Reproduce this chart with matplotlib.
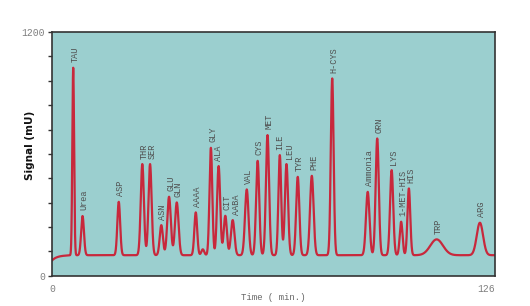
import numpy as np
import matplotlib
matplotlib.use("Agg")
import matplotlib.pyplot as plt

# Peak table
names = ["TAU", "Urea", "ASP", "THR", "SER", "ASN", "GLU", "GLN", "AAAA", "", "GLY",
         "ALA", "CIT", "AABA", "VAL", "CYS", "MET", "ILE", "LEU", "TYR", "PHE",
         "H-CYS", "Ammonia", "ORN", "LYS", "1-MET-HIS", "HIS", "TRP", "ARG"]
times = [6.05, 8.7, 19.0, 25.7, 27.9, 31.1, 33.3, 35.5, 40.9, 42.9, 45.2,
         47.4, 49.3, 51.4, 55.4, 58.5, 61.3, 64.8, 66.7, 69.9, 73.9,
         79.7, 89.8, 92.5, 96.6, 99.3, 101.5, 109.4, 121.7]
heights = [1025, 294, 364, 550, 550, 249, 389, 361, 312, 130, 630,
           540, 295, 274, 425, 566, 693, 594, 550, 487, 492,
           972, 413, 676, 520, 266, 430, 179, 261]
widths = [0.25, 0.4, 0.4, 0.45, 0.45, 0.45, 0.5, 0.5, 0.4, 0.4, 0.4,
          0.45, 0.45, 0.5, 0.5, 0.45, 0.45, 0.4, 0.45, 0.45, 0.5,
          0.4, 0.5, 0.45, 0.45, 0.4, 0.4, 1.8, 0.9]
baseline_level = 101
start_level = 75

t = np.linspace(0, 126, 6000)
signal = baseline_level - (baseline_level - start_level) * np.exp(-t / 1.5)
for tc, h, w in zip(times, heights, widths):
    signal = signal + (h - baseline_level) * np.exp(-0.5 * ((t - tc) / w) ** 2)

fig = plt.figure(figsize=(5.3, 3.06), dpi=100)
ax = fig.add_axes([0.098, 0.099, 0.836, 0.796])
ax.set_facecolor("#9bcfcf")
ax.plot(t, signal, color="#c8283c", lw=1.6, solid_joinstyle="round")
ax.set_xlim(0, 126)
ax.set_ylim(0, 1200)

# nudge apart labels of very close neighbouring peaks
n = len(times)
dx = [1.2] * n
for i in range(n - 1):
    if names[i] and names[i + 1] and times[i + 1] - times[i] < 2.15:
        dx[i] -= 1.2
        dx[i + 1] += 1.2

label_color = "#505050"
for name, tc, h, off in zip(names, times, heights, dx):
    if not name:
        continue
    ax.annotate(name, xy=(tc, h), xytext=(off, 4), textcoords="offset points",
                rotation=90, ha="center", va="bottom", fontsize=6.2,
                family="Liberation Mono", color=label_color)

ax.set_yticks(np.arange(0, 1201, 120))
ax.set_yticklabels(["0"] + [""] * 9 + ["1200"])
ax.set_xticks([0, 126])
ax.set_xticklabels(["0", "126"])
ax.tick_params(axis="y", direction="out", length=3, width=1, color="#333333",
               labelsize=7, labelcolor="#808080", pad=2)
ax.tick_params(axis="x", length=0, labelsize=7, labelcolor="#808080", pad=6)
for lab in ax.get_xticklabels() + ax.get_yticklabels():
    lab.set_family("Liberation Mono")
ax.get_xticklabels()[1].set_horizontalalignment("right")
for sp in ax.spines.values():
    sp.set_color("#333333")
    sp.set_linewidth(1.2)

ax.set_ylabel("Signal (mU)", fontsize=7.5, fontweight="bold", color="#111111",
              family="DejaVu Sans")
ax.yaxis.set_label_coords(-0.038, 0.536)
ax.set_xlabel("Time ( min.)", fontsize=6.5, color="#666666",
              family="Liberation Mono")
ax.xaxis.set_label_coords(0.5, -0.07)

fig.savefig("out.png", dpi=100, facecolor="white")
